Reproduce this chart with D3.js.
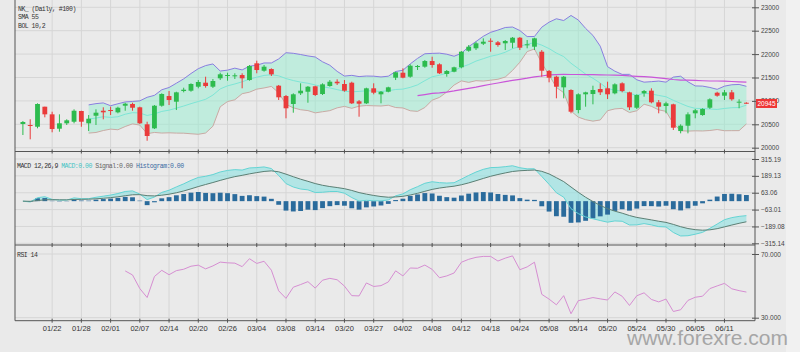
<!doctype html>
<html>
<head>
<meta charset="utf-8">
<style>
  body { margin: 0; background: #eaeaea; }
  svg { display: block; }
  text { font-family: 'Liberation Sans', Arial, sans-serif; }
  .mono { font-family: 'Liberation Mono', 'DejaVu Sans Mono', monospace; font-size: 6.5px; letter-spacing: -0.5px; fill: #333; }
  .ylab { font-size: 6.5px; fill: #444; }
  .xlab { font-size: 7.5px; fill: #333; }
  .grid line { stroke: #d6d6d6; stroke-width: 1; }
  .frame { stroke: #555; stroke-width: 1; fill: none; }
</style>
<script src="https://d3js.org/d3.v7.min.js"></script>
</head>
<body>
<svg width="800" height="352"></svg>
<script>
// daily candles (oldest first)
const open = [
  20506,20485,20448,20876,20713,20406,20521,20555,20784,20521,
  20683,20790,20805,20756,20897,20934,20863,20500,20414,20897,
  21104,20983,21211,21218,21303,21389,21303,21483,21532,21525,
  21553,21446,21803,21645,21681,21325,21104,20934,21162,21196,
  21312,21147,21318,21410,21361,21389,20991,20948,21269,21141,
  21196,21496,21602,21517,21724,21731,21852,21782,21575,21624,
  21718,22072,22124,22222,22286,22252,22231,22243,22350,22188,
  22158,22051,21639,21517,21290,21233,20805,21141,21147,21254,
  21269,21162,21376,21183,20854,21162,21218,20970,20891,20927,
  20356,20470,20735,20698,20854,21175,21111,21183,20970,20961]
const high = [
  20570,20607,20948,20876,20769,20713,20607,20820,20790,20698,
  20820,20863,20876,20876,20961,20961,20876,20555,20912,21162,
  21211,21196,21282,21376,21446,21517,21468,21602,21602,21590,
  21590,21767,21859,21767,21696,21340,21126,21162,21376,21318,
  21325,21376,21446,21461,21446,21410,21019,21282,21376,21211,
  21303,21624,21696,21782,21767,21874,21944,21803,21660,21731,
  22066,22194,22265,22337,22337,22280,22301,22365,22365,22301,
  22350,22087,21660,21538,21532,21248,21162,21196,21325,21376,
  21410,21376,21397,21196,21141,21233,21269,21019,20983,20940,
  20500,20756,20827,20842,21055,21196,21233,21233,21034,20970]
const low = [
  20271,20179,20414,20649,20329,20342,20485,20521,20448,20356,
  20485,20607,20698,20735,20790,20790,20506,20149,20399,20876,
  20912,20805,21183,21196,21269,21282,21275,21446,21431,21468,
  21269,21431,21590,21624,21532,21019,20628,20748,21126,20961,
  21104,21126,21303,21340,21196,20934,20662,20934,21141,20948,
  21183,21446,21483,21496,21660,21709,21709,21575,21517,21611,
  21696,22051,22087,22194,22051,22158,22087,22124,22087,22124,
  22087,21517,21397,21055,21055,20735,20735,20876,20927,21126,
  21040,21141,21183,20805,20827,21090,20948,20735,20735,20378,
  20307,20307,20628,20683,20827,21090,21019,21004,20842,20940]
const close = [
  20549,20470,20934,20713,20399,20521,20585,20790,20555,20619,
  20748,20756,20784,20854,20940,20854,20521,20250,20897,21147,
  21019,21183,21239,21361,21404,21318,21425,21568,21553,21547,
  21483,21746,21660,21731,21568,21077,20842,21141,21218,21303,
  21126,21354,21410,21376,21218,20948,20940,21269,21175,21196,
  21290,21611,21496,21752,21746,21852,21767,21590,21639,21718,
  22051,22158,22231,22265,22265,22194,22280,22350,22137,22209,
  22337,21645,21496,21303,21517,20769,21141,21183,21233,21183,
  21141,21354,21211,20863,21126,21211,20970,20876,20948,20427,
  20470,20713,20799,20827,21034,21111,21183,21034,20983,20945]

// date labels, one every 4 bars starting at bar 4
const dateLabels = ['01/22','01/28','02/01','02/07','02/14','02/20','02/26','03/04',
  '03/08','03/14','03/20','03/27','04/02','04/08','04/12','04/18','04/24','05/08',
  '05/14','05/20','05/24','05/30','06/05','06/11']
const priceTicks = [20000, 20500, 21000, 21500, 22000, 22500, 23000]
const macdTicks = [-315.14, -189.08, -63.01, 63.06, 189.13, 315.19]
const rsiTicks = [30, 70]

const n = close.length
const idx = d3.range(n)

// indicators as named in the legend
const sma = (arr, p) => arr.map((v, i) => i < p - 1 ? null : d3.mean(arr.slice(i - p + 1, i + 1)))
const ema = (arr, p) => { const k = 2 / (p + 1); let e = arr[0]; return arr.map(v => (e = v * k + e * (1 - k))) }

const sma55 = sma(close, 55)
const mid = sma(close, 10)
const bol = idx.map(i => {
  if (i < 9) return null
  const s = close.slice(i - 9, i + 1), m = mid[i]
  const sd = Math.sqrt(d3.mean(s, v => (v - m) * (v - m)))
  return { i, up: m + 2 * sd, lo: m - 2 * sd, mid: m }
}).filter(d => d)

const e12 = ema(close, 12), e26 = ema(close, 26)
const macd = idx.map(i => e12[i] - e26[i])
const signal = ema(macd, 9)
const hist = idx.map(i => macd[i] - signal[i])

const rsi = new Array(n).fill(null)
let ag = 0, al = 0
for (let i = 1; i < n; i++) {
  const d = close[i] - close[i - 1], g = Math.max(d, 0), l = Math.max(-d, 0)
  if (i <= 14) { ag += g / 14; al += l / 14 }
  else { ag = (ag * 13 + g) / 14; al = (al * 13 + l) / 14 }
  if (i >= 14) rsi[i] = 100 - 100 / (1 + ag / al)
}

const svg = d3.select('svg')
const L = 15, R = 755
const P = { top: 0, bot: 151.5 }, M = { top: 151.5, bot: 245 }, S = { top: 245, bot: 320.7 }

svg.append('rect').attr('x', 786).attr('y', 0).attr('width', 14).attr('height', 352).attr('fill', '#f1f1f1')

const x = d3.scaleBand().domain(idx).range([18, 751.3]).padding(0.34)
const cx = i => x(i) + x.bandwidth() / 2
const yP = d3.scaleLinear().domain([20000, 23000]).range([147.7, 7.3])
const yM = d3.scaleLinear().domain([-315.14, 315.19]).range([243.3, 159])
const yR = d3.scaleLinear().domain([30, 70]).range([317.7, 254])
const tickIdx = dateLabels.map((d, k) => 4 + 4 * k)

// grids
function grid(panel, ys, yvals) {
  const g = svg.append('g').attr('class', 'grid')
  g.selectAll('.v').data(tickIdx).join('line')
    .attr('x1', cx).attr('x2', cx).attr('y1', panel.top).attr('y2', panel.bot)
  g.selectAll('.h').data(yvals).join('line')
    .attr('x1', L).attr('x2', R).attr('y1', ys).attr('y2', ys)
}
grid(P, yP, priceTicks)
grid(M, yM, macdTicks)
grid(S, yR, rsiTicks)

// bollinger band
svg.append('path').datum(bol)
  .attr('fill', 'rgba(150,238,208,0.5)')
  .attr('d', d3.area().x(d => cx(d.i)).y0(d => yP(d.lo)).y1(d => yP(d.up)))
const bline = (key, col) => svg.append('path').datum(bol).attr('fill', 'none').attr('stroke', col).attr('stroke-width', 1)
  .attr('d', d3.line().x(d => cx(d.i)).y(d => yP(d[key])))
bline('up', '#8a7ee0'); bline('lo', '#c9aaa4'); bline('mid', '#7ee6d6')

svg.append('path').datum(idx.filter(i => sma55[i] != null))
  .attr('fill', 'none').attr('stroke', '#c955d9').attr('stroke-width', 1.2)
  .attr('d', d3.line().x(cx).y(i => yP(sma55[i])))

// candles
const cg = svg.append('g')
const col = i => close[i] >= open[i] ? '#2dbb4e' : '#ea3b3b'
cg.selectAll('.w').data(idx).join('line')
  .attr('x1', cx).attr('x2', cx).attr('y1', i => yP(high[i])).attr('y2', i => yP(low[i]))
  .attr('stroke', col).attr('stroke-width', 1)
cg.selectAll('.b').data(idx).join('rect')
  .attr('x', i => x(i)).attr('width', x.bandwidth())
  .attr('y', i => yP(Math.max(open[i], close[i])))
  .attr('height', i => Math.max(1, Math.abs(yP(open[i]) - yP(close[i]))))
  .attr('fill', col)

// macd
svg.append('path').datum(idx)
  .attr('fill', 'rgba(140,225,225,0.6)')
  .attr('d', d3.area().x(cx).y0(i => yM(signal[i])).y1(i => yM(macd[i])))
svg.selectAll('.h').data(idx).join('rect')
  .attr('x', i => x(i)).attr('width', x.bandwidth())
  .attr('y', i => Math.min(yM(0), yM(hist[i])))
  .attr('height', i => Math.abs(yM(hist[i]) - yM(0)))
  .attr('fill', '#2a6b9c')
svg.append('path').datum(idx).attr('fill', 'none').attr('stroke', '#64d4d4').attr('stroke-width', 1)
  .attr('d', d3.line().x(cx).y(i => yM(macd[i])))
svg.append('path').datum(idx).attr('fill', 'none').attr('stroke', '#5c7f74').attr('stroke-width', 1)
  .attr('d', d3.line().x(cx).y(i => yM(signal[i])))

// rsi
svg.append('path').datum(idx.filter(i => rsi[i] != null))
  .attr('fill', 'none').attr('stroke', '#d68ed2').attr('stroke-width', 1)
  .attr('d', d3.line().x(cx).y(i => yR(rsi[i])))

// frames, right axes, bottom ticks
svg.append('line').attr('class', 'frame').attr('x1', L).attr('x2', L).attr('y1', 0).attr('y2', S.bot)
;[P, M, S].forEach(p => {
  svg.append('line').attr('class', 'frame').attr('x1', L).attr('x2', R).attr('y1', p.bot).attr('y2', p.bot)
  svg.append('g').selectAll('line').data(tickIdx).join('line').attr('class', 'frame')
    .attr('x1', cx).attr('x2', cx).attr('y1', p.bot - 2).attr('y2', p.bot + 2)
})
const rAxis = (sc, vals, fmt) => svg.append('g')
  .attr('transform', `translate(${R},0)`)
  .call(d3.axisRight(sc).tickValues(vals).tickFormat(fmt).tickSize(4).tickPadding(2))
  .call(g => g.select('.domain').remove())
  .call(g => g.selectAll('line').attr('x1', -3).attr('stroke', '#555'))
  .call(g => g.selectAll('text').attr('class', 'ylab').attr('font-family', null).attr('font-size', null))
svg.append('line').attr('class', 'frame').attr('x1', R).attr('x2', R).attr('y1', 0).attr('y2', S.bot)
rAxis(yP, priceTicks, d3.format('d'))
rAxis(yM, macdTicks, d3.format('.2f'))
rAxis(yR, rsiTicks, d3.format('.3f'))

svg.append('g').selectAll('text').data(tickIdx).join('text')
  .attr('class', 'xlab').attr('x', cx).attr('y', 330.5).attr('text-anchor', 'middle')
  .text((d, k) => dateLabels[k])

// last price tag
const last = close[n - 1]
svg.append('rect').attr('x', 756).attr('y', yP(last) - 4.5).attr('width', 21).attr('height', 9).attr('fill', '#ee3535')
svg.append('text').attr('x', 766.5).attr('y', yP(last)).attr('dy', '0.35em').attr('text-anchor', 'middle')
  .attr('font-size', '6.5px').attr('fill', '#fff').text(last)

// legends
const lg = [['NK_ (Daily, #100)', 11], ['SMA 55', 19.3], ['BOL 10,2', 27.7]]
lg.forEach(d => svg.append('text').attr('class', 'mono').attr('x', 18).attr('y', d[1]).text(d[0]))
const mt = svg.append('text').attr('class', 'mono').attr('x', 17).attr('y', 167.5)
mt.append('tspan').text('MACD 12,26,9 ')
mt.append('tspan').attr('fill', '#44c4c4').text('MACD:0.00 ')
mt.append('tspan').attr('fill', '#666').text('Signal:0.00 ')
mt.append('tspan').attr('fill', '#3a6ca4').text('Histogram:0.00')
svg.append('text').attr('class', 'mono').attr('x', 17).attr('y', 256.7).text('RSI 14')

svg.append('text').attr('x', 627).attr('y', 345).attr('font-size', '21px').attr('fill', '#a6a6a6')
  .text('www.forexre.com')
</script>
</body>
</html>
